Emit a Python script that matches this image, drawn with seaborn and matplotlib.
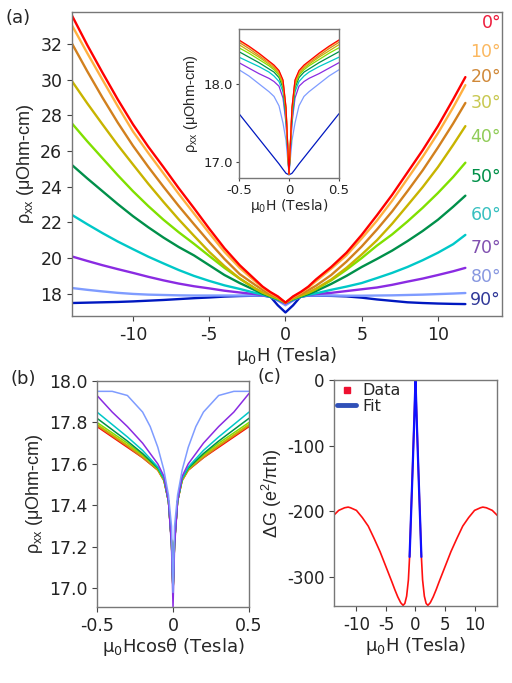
import matplotlib
matplotlib.use('Agg')
import matplotlib.pyplot as plt
from matplotlib.lines import Line2D
import seaborn as sns
import pandas as pd

# ---- data ----
angles = [0, 10, 20, 30, 40, 50, 60, 70, 80, 90]
line_colors = ['#ff0000', '#ffb040', '#d2801e', '#c8b400', '#80e000',
               '#00904a', '#00c8c8', '#8a2be2', '#7f9cff', '#0018c0']
label_colors = ['#ee1c3c', '#fbb860', '#d08838', '#c8c850', '#90cc58',
                '#009048', '#38c0c0', '#8050b0', '#8898e0', '#303898']

# (a) main panel: rho_xx vs field, one row per angle
field_main = [-14, -13, -12, -11, -10, -9, -8, -7, -6, -5, -4, -3, -2, -1.5, -1, -0.5, 0,
              0.5, 1, 1.5, 2, 3, 4, 5, 6, 7, 8, 9, 10, 11, 11.8]
rho_main = [
    [33.6, 31.95, 30.4, 28.9, 27.5, 26.25, 25.1, 23.92, 22.8, 21.65, 20.55, 19.6, 18.8, 18.4, 18.1, 17.85, 17.5,
     17.85, 18.1, 18.4, 18.8, 19.5, 20.3, 21.3, 22.4, 23.55, 24.8, 26.05, 27.4, 28.9, 30.15],
    [33.05, 31.5, 30.0, 28.52, 27.1, 25.9, 24.75, 23.6, 22.5, 21.4, 20.35, 19.45, 18.7, 18.35, 18.05, 17.82, 17.5,
     17.82, 18.05, 18.35, 18.7, 19.4, 20.15, 21.1, 22.1, 23.22, 24.45, 25.68, 27.0, 28.45, 29.7],
    [32.03, 30.48, 29.0, 27.6, 26.3, 25.12, 24.0, 22.92, 21.9, 20.9, 19.95, 19.1, 18.5, 18.22, 17.98, 17.78, 17.5,
     17.78, 17.98, 18.2, 18.45, 19.05, 19.8, 20.65, 21.6, 22.62, 23.75, 24.92, 26.2, 27.55, 28.7],
    [29.92, 28.68, 27.5, 26.34, 25.25, 24.17, 23.15, 22.17, 21.25, 20.35, 19.55, 18.85, 18.3, 18.08, 17.9, 17.74, 17.5,
     17.74, 17.9, 18.06, 18.28, 18.8, 19.45, 20.2, 21.0, 21.93, 22.95, 23.98, 25.1, 26.35, 27.4],
    [27.55, 26.55, 25.6, 24.65, 23.75, 22.92, 22.15, 21.45, 20.8, 20.12, 19.45, 18.85, 18.3, 18.06, 17.88, 17.72, 17.5,
     17.72, 17.88, 18.05, 18.25, 18.75, 19.35, 20.0, 20.7, 21.33, 22.05, 22.82, 23.65, 24.55, 25.35],
    [25.22, 24.47, 23.75, 23.03, 22.35, 21.73, 21.15, 20.62, 20.15, 19.6, 19.05, 18.6, 18.2, 18.0, 17.84, 17.7, 17.5,
     17.7, 17.84, 17.98, 18.15, 18.55, 19.0, 19.5, 19.95, 20.42, 20.95, 21.52, 22.15, 22.88, 23.5],
    [22.42, 21.9, 21.4, 20.93, 20.5, 20.08, 19.7, 19.33, 19.0, 18.72, 18.47, 18.27, 18.05, 17.95, 17.82, 17.66, 17.5,
     17.66, 17.82, 17.93, 18.02, 18.22, 18.4, 18.6, 18.88, 19.17, 19.5, 19.88, 20.3, 20.78, 21.3],
    [20.09, 19.84, 19.6, 19.38, 19.17, 18.95, 18.75, 18.57, 18.42, 18.3, 18.17, 18.07, 17.98, 17.92, 17.82, 17.64, 17.45,
     17.64, 17.82, 17.92, 17.98, 18.05, 18.15, 18.25, 18.35, 18.5, 18.68, 18.85, 19.05, 19.26, 19.45],
    [18.32, 18.22, 18.13, 18.05, 17.99, 17.95, 17.93, 17.91, 17.9, 17.9, 17.9, 17.9, 17.9, 17.9, 17.85, 17.62, 17.35,
     17.62, 17.85, 17.9, 17.9, 17.9, 17.89, 17.89, 17.9, 17.91, 17.93, 17.95, 17.98, 18.01, 18.04],
    [17.48, 17.5, 17.52, 17.54, 17.57, 17.61, 17.65, 17.7, 17.75, 17.79, 17.84, 17.87, 17.89, 17.89, 17.85, 17.35, 16.95,
     17.35, 17.85, 17.89, 17.89, 17.88, 17.85, 17.78, 17.68, 17.6, 17.52, 17.48, 17.45, 17.43, 17.42],
]
label_y = [0.964, 0.868, 0.786, 0.701, 0.589, 0.457, 0.332, 0.224, 0.128, 0.053]

# (a) inset: low-field zoom
field_inset = [-0.5, -0.4, -0.3, -0.2, -0.15, -0.1, -0.06, -0.03, 0,
               0.03, 0.06, 0.1, 0.15, 0.2, 0.3, 0.4, 0.5]
rho_inset = [
    [18.56, 18.48, 18.39, 18.29, 18.24, 18.17, 18.05, 17.70, 16.85, 17.70, 18.05, 18.17, 18.24, 18.29, 18.39, 18.48, 18.56],
    [18.55, 18.47, 18.38, 18.28, 18.23, 18.16, 18.04, 17.70, 16.85, 17.70, 18.04, 18.16, 18.23, 18.28, 18.38, 18.47, 18.55],
    [18.53, 18.45, 18.36, 18.27, 18.22, 18.15, 18.03, 17.68, 16.85, 17.68, 18.03, 18.15, 18.22, 18.27, 18.36, 18.45, 18.53],
    [18.50, 18.42, 18.34, 18.25, 18.20, 18.13, 18.00, 17.66, 16.85, 17.66, 18.00, 18.13, 18.20, 18.25, 18.34, 18.42, 18.50],
    [18.46, 18.39, 18.31, 18.23, 18.18, 18.11, 17.98, 17.64, 16.85, 17.64, 17.98, 18.11, 18.18, 18.23, 18.31, 18.39, 18.46],
    [18.41, 18.34, 18.27, 18.19, 18.15, 18.08, 17.95, 17.60, 16.85, 17.60, 17.95, 18.08, 18.15, 18.19, 18.27, 18.34, 18.41],
    [18.34, 18.28, 18.22, 18.15, 18.10, 18.03, 17.90, 17.55, 16.85, 17.55, 17.90, 18.03, 18.10, 18.15, 18.22, 18.28, 18.34],
    [18.27, 18.20, 18.13, 18.07, 18.03, 17.97, 17.82, 17.50, 16.85, 17.50, 17.82, 17.97, 18.03, 18.07, 18.13, 18.20, 18.27],
    [18.18, 18.10, 18.00, 17.90, 17.84, 17.72, 17.50, 17.28, 16.85, 17.28, 17.50, 17.72, 17.84, 17.90, 18.00, 18.10, 18.18],
    [17.62, 17.46, 17.30, 17.14, 17.06, 16.98, 16.91, 16.86, 16.84, 16.86, 16.91, 16.98, 17.06, 17.14, 17.30, 17.46, 17.62],
]

# (b) rho_xx vs H cos(theta), angles 0-80
field_b = [-0.5, -0.4, -0.3, -0.2, -0.15, -0.1, -0.06, -0.03, -0.01, 0,
           0.01, 0.03, 0.06, 0.1, 0.15, 0.2, 0.3, 0.4, 0.5]
rho_b = [
    [17.78, 17.73, 17.68, 17.63, 17.60, 17.57, 17.52, 17.42, 17.22, 16.98, 17.22, 17.42, 17.52, 17.57, 17.60, 17.63, 17.68, 17.73, 17.78],
    [17.79, 17.74, 17.69, 17.635, 17.605, 17.57, 17.52, 17.42, 17.22, 16.98, 17.22, 17.42, 17.52, 17.57, 17.605, 17.635, 17.69, 17.74, 17.79],
    [17.785, 17.735, 17.685, 17.63, 17.60, 17.57, 17.52, 17.42, 17.22, 16.98, 17.22, 17.42, 17.52, 17.57, 17.60, 17.63, 17.685, 17.735, 17.785],
    [17.79, 17.74, 17.69, 17.64, 17.61, 17.575, 17.525, 17.42, 17.22, 16.98, 17.22, 17.42, 17.525, 17.575, 17.61, 17.64, 17.69, 17.74, 17.79],
    [17.80, 17.75, 17.70, 17.645, 17.61, 17.575, 17.525, 17.42, 17.22, 16.98, 17.22, 17.42, 17.525, 17.575, 17.61, 17.645, 17.70, 17.75, 17.80],
    [17.82, 17.765, 17.71, 17.65, 17.615, 17.58, 17.53, 17.42, 17.22, 16.98, 17.22, 17.42, 17.53, 17.58, 17.615, 17.65, 17.71, 17.765, 17.82],
    [17.85, 17.79, 17.73, 17.665, 17.625, 17.585, 17.53, 17.42, 17.22, 16.98, 17.22, 17.42, 17.53, 17.585, 17.625, 17.665, 17.73, 17.79, 17.85],
    [17.93, 17.85, 17.78, 17.70, 17.65, 17.60, 17.54, 17.42, 17.20, 16.91, 17.20, 17.42, 17.54, 17.60, 17.65, 17.70, 17.78, 17.85, 17.94],
    [17.95, 17.95, 17.93, 17.85, 17.78, 17.68, 17.57, 17.45, 17.30, 16.98, 17.30, 17.45, 17.57, 17.68, 17.78, 17.85, 17.93, 17.95, 17.95],
]

# (c) magnetoconductance and fit
field_c = [-14, -13, -12, -11.4, -11, -10, -9, -8, -7, -6, -5, -4, -3.5, -3, -2.5, -2.1, -1.8,
           -1.5, -1.2, -1.0, -0.5, 0, 0.5, 1.0, 1.2, 1.5, 1.8, 2.1, 2.5, 3, 3.5, 4, 5, 6, 7,
           8, 9, 10, 11, 11.4, 12, 13, 14]
dG_data = [-208, -199, -195, -194, -195, -199, -210, -223, -242, -262, -285, -308, -320, -331,
           -340, -344, -341, -330, -305, -270, -138, 0, -138, -270, -305, -330, -341, -344,
           -340, -331, -320, -308, -285, -262, -242, -223, -210, -199, -195, -194, -195, -199, -208]
field_fit = [-1.0, -0.75, -0.5, -0.25, -0.1, 0, 0.1, 0.25, 0.5, 0.75, 1.0]
dG_fit = [-270, -205, -140, -72, -28, 0, -28, -72, -140, -205, -270]


def long_table(field, rows, labels):
    frames = [pd.DataFrame({'field': field, 'rho': vals, 'angle': a})
              for a, vals in zip(labels, rows)]
    return pd.concat(frames, ignore_index=True)


sns.set_theme(style='ticks')
plt.rcParams['font.family'] = ['DejaVu Sans']
plt.rcParams['axes.unicode_minus'] = False
plt.rcParams['axes.edgecolor'] = '#777777'
plt.rcParams['axes.linewidth'] = 1.0

palette = dict(zip(angles, line_colors))
rho_lbl = 'ρ$_\\mathregular{xx}$ (μOhm-cm)'
h_lbl = 'μ$_\\mathregular{0}$H (Tesla)'
narrow = ['Liberation Sans', 'DejaVu Sans']


def style_ticks(ax, size):
    ax.tick_params(direction='out', length=3.5, width=0.8, color='#444444',
                   labelsize=size, pad=3.5, labelcolor='#222222')


fig = plt.figure(figsize=(5.12, 6.83), dpi=100)

# ---- (a) ----
ax_a = fig.add_axes([0.1406, 0.5373, 0.8398, 0.4451])
df_a = long_table(field_main, rho_main, angles)
sns.lineplot(data=df_a, x='field', y='rho', hue='angle', hue_order=angles[::-1],
             palette=palette, estimator=None, lw=1.7, legend=False, ax=ax_a)
ax_a.set_xlim(-14, 14.2)
ax_a.set_ylim(16.75, 33.8)
ax_a.set_xticks([-10, -5, 0, 5, 10])
ax_a.set_yticks(range(18, 33, 2))
ax_a.set_xlabel(h_lbl, fontsize=13, labelpad=1)
ax_a.set_ylabel(rho_lbl, fontsize=13, family=narrow, labelpad=3)
style_ticks(ax_a, 12.5)
for a, c, yy in zip(angles, label_colors, label_y):
    ax_a.text(0.998, yy, f'{a}°', transform=ax_a.transAxes, ha='right', va='center',
              color=c, fontsize=12.5)

# inset
ax_in = fig.add_axes([0.4668, 0.7394, 0.1953, 0.2182])
df_in = long_table(field_inset, rho_inset, angles)
sns.lineplot(data=df_in, x='field', y='rho', hue='angle', hue_order=angles[::-1],
             palette=palette, estimator=None, lw=0.9, legend=False, ax=ax_in)
ax_in.set_xlim(-0.5, 0.5)
ax_in.set_ylim(16.8, 18.7)
ax_in.set_xticks([-0.5, 0, 0.5])
ax_in.set_xticklabels(['-0.5', '0', '0.5'])
ax_in.set_yticks([17.0, 18.0])
ax_in.set_yticklabels(['17.0', '18.0'])
ax_in.set_xlabel(h_lbl, fontsize=10, labelpad=0)
ax_in.set_ylabel(rho_lbl, fontsize=10.5, family=narrow, labelpad=2)
style_ticks(ax_in, 9.5)
ax_in.tick_params(length=2.5, pad=2)

# ---- (b) ----
ax_b = fig.add_axes([0.1895, 0.1113, 0.2969, 0.3309])
df_b = long_table(field_b, rho_b, angles[:9])
sns.lineplot(data=df_b, x='field', y='rho', hue='angle', hue_order=angles[:9],
             palette=palette, estimator=None, lw=1.1, legend=False, ax=ax_b)
ax_b.set_xlim(-0.5, 0.5)
ax_b.set_ylim(16.91, 18.0)
ax_b.set_xticks([-0.5, 0, 0.5])
ax_b.set_xticklabels(['-0.5', '0', '0.5'])
ax_b.set_yticks([17.0, 17.2, 17.4, 17.6, 17.8, 18.0])
ax_b.set_yticklabels(['17.0', '17.2', '17.4', '17.6', '17.8', '18.0'])
ax_b.set_xlabel('μ$_\\mathregular{0}$Hcosθ (Tesla)', fontsize=13, labelpad=1)
ax_b.set_ylabel(rho_lbl, fontsize=13, family=narrow, labelpad=3)
style_ticks(ax_b, 12.5)

# ---- (c) ----
ax_c = fig.add_axes([0.6523, 0.1127, 0.3184, 0.3309])
sns.lineplot(x=field_c, y=dG_data, color='#ff1010', lw=1.2, estimator=None, ax=ax_c)
sns.lineplot(x=field_fit, y=dG_fit, color='#1010ff', lw=1.6, estimator=None, ax=ax_c)
ax_c.set_xlim(-13.8, 13.8)
ax_c.set_ylim(-345, 0)
ax_c.set_xticks([-10, -5, 0, 5, 10])
ax_c.set_yticks([0, -100, -200, -300])
ax_c.set_xlabel(h_lbl, fontsize=13, labelpad=1)
ax_c.set_ylabel('ΔG (e$^\\mathregular{2}$/πh)', fontsize=13, family=narrow, labelpad=2)
style_ticks(ax_c, 12)
handles = [Line2D([], [], ls='none', marker='s', ms=5, color='#ee1030'),
           Line2D([], [], color='#3050b8', lw=3.5)]
ax_c.legend(handles, ['Data', 'Fit'], loc='upper left', frameon=False, fontsize=11.5,
            handlelength=1.2, handletextpad=0.4, labelspacing=0.05,
            borderaxespad=0.1, borderpad=0.1)

# panel letters
fig.text(0.010, 0.974, '(a)', fontsize=13, va='center')
fig.text(0.020, 0.445, '(b)', fontsize=13, va='center')
fig.text(0.502, 0.448, '(c)', fontsize=13, va='center')

fig.savefig('out.png', dpi=100)
